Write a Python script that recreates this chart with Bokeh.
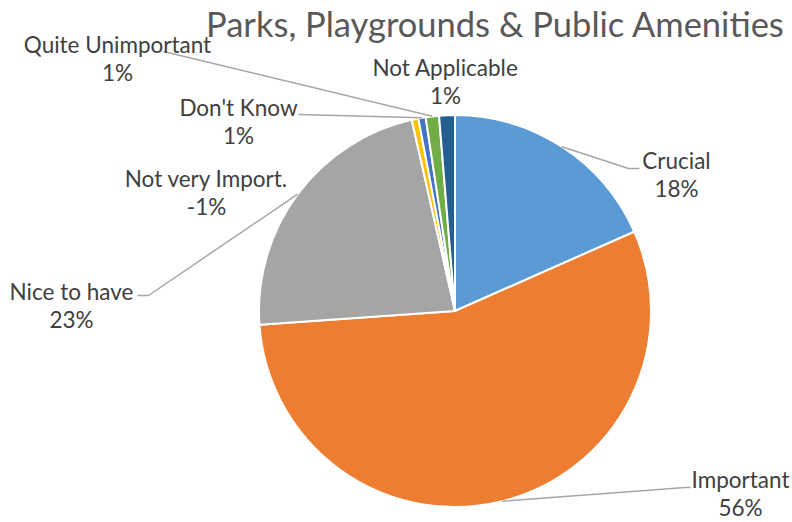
import math
from bokeh.plotting import figure
from bokeh.models import Range1d, ColumnDataSource
from bokeh.core.properties import value
from bokeh.embed import file_html
from bokeh.resources import INLINE

# ---- data ----
categories = ["Crucial", "Important", "Nice to have", "Not very Import.",
              "Don't Know", "Quite Unimportant", "Not Applicable"]
values = [18.4, 55.6, 22.6, -0.55, 0.6, 1.1, 1.3]
colors = ["#5B9BD5", "#ED7D31", "#A5A5A5", "#FFC000", "#4472C4", "#70AD47", "#255E91"]
chart_title = "Parks, Playgrounds & Public Amenities"

# ---- layout (page pixel coordinates) ----
W, H = 792, 522
def X(xp): return xp
def Y(yp): return H - yp

label_pos = {  # centre of name line (page px)
    "Crucial": (676, 160),
    "Important": (740, 479),
    "Nice to have": (71, 291),
    "Not very Import.": (206, 178),
    "Don't Know": (238, 107),
    "Quite Unimportant": (117, 44),
    "Not Applicable": (445, 67),
}
leader_pts = {  # leader points from label side back toward the pie (page px)
    "Crucial": [(639, 168), (628, 168)],
    "Important": [(690, 487), (685, 487)],
    "Nice to have": [(137, 295), (148, 295)],
    "Don't Know": [(298, 114)],
    "Quite Unimportant": [(163, 51)],
}
LINE_GAP = 28
FONT = "Lato"

p = figure(width=W, height=H, x_range=Range1d(0, W), y_range=Range1d(0, H),
           output_backend="svg", toolbar_location=None, min_border=0)
p.axis.visible = False
p.grid.visible = False
p.outline_line_color = None
p.background_fill_color = "white"
p.border_fill_color = "white"

cx, cy, R = X(454.5), Y(310.5), 196
total = sum(abs(v) for v in values)
starts, ends, mids = [], [], []
cum = 0.0
for v in values:
    f0 = cum / total
    cum += abs(v)
    f1 = cum / total
    starts.append(math.pi / 2 - 2 * math.pi * f1)
    ends.append(math.pi / 2 - 2 * math.pi * f0)
    mids.append(math.pi / 2 - math.pi * (f0 + f1))

src = ColumnDataSource(dict(start=starts, end=ends, color=colors, cat=categories))
p.wedge(x=cx, y=cy, radius=R, start_angle="start", end_angle="end",
        fill_color="color", line_color="white", line_width=2, source=src)

# leader lines
for cat, m in zip(categories, mids):
    if cat not in leader_pts:
        continue
    pts = [(X(a), Y(b)) for a, b in leader_pts[cat]]
    pts.append((cx + R * math.cos(m), cy + R * math.sin(m)))
    p.line([q[0] for q in pts], [q[1] for q in pts], line_color="#A6A6A6", line_width=1.5)

# labels
names_x, names_y, pct_y, pcts = [], [], [], []
for cat, v in zip(categories, values):
    lx, ly = label_pos[cat]
    names_x.append(X(lx))
    names_y.append(Y(ly))
    pct_y.append(Y(ly + LINE_GAP))
    pcts.append(f"{round(v)}%")

p.text(x=names_x, y=names_y, text=categories, text_align="center", text_baseline="middle",
       text_font=value(FONT), text_font_size="22.5px", text_color="#404040")
p.text(x=names_x, y=pct_y, text=pcts, text_align="center", text_baseline="middle",
       text_font=value(FONT), text_font_size="22.5px", text_color="#404040")

p.text(x=[X(495)], y=[Y(23)], text=[chart_title], text_align="center", text_baseline="middle",
       text_font=value(FONT), text_font_size="34.5px", text_color="#595959")

open("out.html", "w").write(file_html(p, INLINE))
